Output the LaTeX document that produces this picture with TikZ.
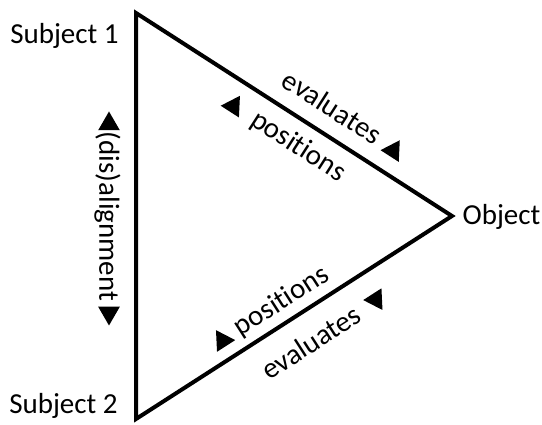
\documentclass[tikz,border=0pt]{standalone}
\usepackage{fontspec}
\setmainfont{Carlito}[Ligatures=NoCommon]
\usetikzlibrary{calc,shapes.geometric}
\tikzset{
  lbl/.style={font=\fontsize{29}{32}\selectfont, inner sep=0pt},
  tri/.style={regular polygon, regular polygon sides=3, fill=black, inner sep=0pt, minimum size=25pt},
  edge/.style={line width=4pt, line join=miter}
}
\begin{document}
\begin{tikzpicture}[x=1pt,y=1pt]
\useasboundingbox (0,0) rectangle (542,425);
\coordinate (A) at (136,412);
\coordinate (B) at (452,209);
\coordinate (C) at (136,6);
\draw[edge] (A) -- (B) -- (C) -- cycle;
\node[lbl, anchor=base] (s1) at (64.5,381.5) {Subject 1};
\node[lbl, anchor=base] (s2) at (63.5,11.7) {Subject 2};
\node[lbl, anchor=base] (obj) at (501.5,200) {Object};
% vertical
\node[lbl, rotate=-90] (dis) at (107.5,208.5) {(dis)alignment};
\node[tri] (up) at (109,301) {};
\node[tri, rotate=180] (down) at (109,112) {};
% top edge
\coordinate (t1) at ($(A)!0.575!(B)$);
\coordinate (t2) at ($(A)!0.556!(B)$);
\coordinate (t3) at ($(A)!0.774!(B)$);
\coordinate (t4) at ($(A)!0.352!(B)$);
\node[lbl, rotate=-32.72] (ev1) at ($(t1)!27pt!90:(B)$) {evaluates};
\node[lbl, rotate=-32.72] (po1) at ($(t2)!25pt!-90:(B)$) {positions};
\node[tri, rotate=-32.72] (tr1) at ($(t3)!23pt!90:(B)$) {};
\node[tri, rotate=-32.72] (tr2) at ($(t4)!26pt!-90:(B)$) {};
% bottom edge
\coordinate (b1) at ($(C)!0.495!(B)$);
\coordinate (b2) at ($(C)!0.502!(B)$);
\coordinate (b3) at ($(C)!0.307!(B)$);
\coordinate (b4) at ($(C)!0.709!(B)$);
\node[lbl, rotate=32.72] (po2) at ($(b1)!20pt!90:(B)$) {positions};
\node[lbl, rotate=32.72] (ev2) at ($(b2)!30pt!-90:(B)$) {evaluates};
\node[tri, rotate=32.72] (tr3) at ($(b3)!19pt!90:(B)$) {};
\node[tri, rotate=212.72] (tr4) at ($(b4)!29pt!-90:(B)$) {};
\end{tikzpicture}
\end{document}
